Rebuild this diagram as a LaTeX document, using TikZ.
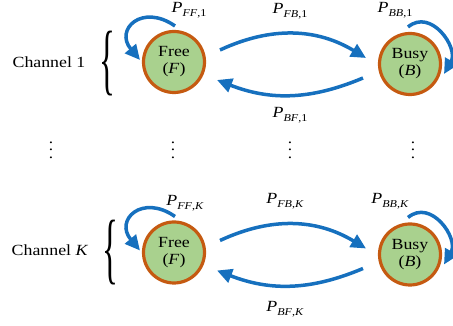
\documentclass[tikz,border=0pt]{standalone}
\usepackage{fontspec}
\setmainfont{Liberation Serif}[FakeStretch=1.15]
\usetikzlibrary{arrows.meta,calc}
\definecolor{cfill}{RGB}{169,209,142}
\definecolor{cline}{RGB}{197,90,17}
\definecolor{carrow}{RGB}{22,112,190}
\newcommand\myvdots{\vbox{\baselineskip=7.5pt\lineskiplimit=-10pt\hbox{.}\hbox{.}\hbox{.}}}
\newcommand\plab[2]{\textit{P}\raisebox{-4.5pt}{\fontsize{10.5}{10.5}\selectfont\textit{#1},#2}}
\newcommand\mybrace{\scalebox{1.8}[4.9]{\fontsize{16}{16}\selectfont\{}}
\begin{document}
\begin{tikzpicture}[x=1pt,y=1pt,
  state/.style={circle,draw=cline,fill=cfill,line width=3.2pt,minimum size=61pt,inner sep=0pt,align=center,font=\fontsize{15.5}{17}\selectfont},
  arr/.style={draw=carrow,line width=3.5pt,-{Triangle[length=15pt,width=14pt]}},
  lab/.style={font=\fontsize{15.5}{15.5}\selectfont,inner sep=0pt},
  chan/.style={font=\fontsize{15.5}{15.5}\selectfont,inner sep=0pt},
  brc/.style={inner sep=0pt},
  dts/.style={font=\fontsize{15}{15}\selectfont,inner sep=0pt}]
\path[use as bounding box] (0,0) rectangle (453,326);
% row 1
\node[state] (F1) at (174,264) {Free\\(\textit{F})};
\node[state] (B1) at (410,262) {Busy\\(\textit{B})};
\node[chan] (C1) at (49,264) {Channel 1};
\node[brc] (K1) at (107,262) {\mybrace};
\draw[arr] ($(F1)+(46,12)$) to[bend left=28] ($(B1)+(-44,6)$);
\draw[arr] ($(B1)+(-47,-14)$) to[bend left=22] ($(F1)+(43,-18)$);
\draw[arr] ($(F1)+(1,36)$) to[out=145,in=130,looseness=2.1] ($(F1)+(-34,2)$);
\draw[arr] ($(B1)+(-2,37)$) to[out=40,in=60,looseness=1.3] ($(B1)+(34,-10)$);
\node[lab] (L1) at (189,316) {\plab{FF}{1}};
\node[lab] (L2) at (290,315) {\plab{FB}{1}};
\node[lab] (L3) at (395,316) {\plab{BB}{1}};
\node[lab] (L4) at (290,211) {\plab{BF}{1}};
% dots
\node[dts] (D1) at (51,176) {\myvdots};
\node[dts] (D2) at (173,176) {\myvdots};
\node[dts] (D3) at (290,176) {\myvdots};
\node[dts] (D4) at (413,176) {\myvdots};
% row K
\node[state] (F2) at (174,73.5) {Free\\(\textit{F})};
\node[state] (B2) at (410,71.5) {Busy\\(\textit{B})};
\node[chan] (C2) at (50,76) {Channel \textit{K}};
\node[brc] (K2) at (110,73) {\mybrace};
\draw[arr] ($(F2)+(46,12)$) to[bend left=28] ($(B2)+(-44,6)$);
\draw[arr] ($(B2)+(-47,-14)$) to[bend left=22] ($(F2)+(43,-18)$);
\draw[arr] ($(F2)+(1,36)$) to[out=145,in=130,looseness=2.1] ($(F2)+(-34,2)$);
\draw[arr] ($(B2)+(-2,37)$) to[out=40,in=60,looseness=1.3] ($(B2)+(34,-10)$);
\node[lab] (M1) at (185,123) {\plab{FF}{\textit{K}}};
\node[lab] (M2) at (285,125) {\plab{FB}{\textit{K}}};
\node[lab] (M3) at (390,125) {\plab{BB}{\textit{K}}};
\node[lab] (M4) at (285,17) {\plab{BF}{\textit{K}}};
\end{tikzpicture}
\end{document}
